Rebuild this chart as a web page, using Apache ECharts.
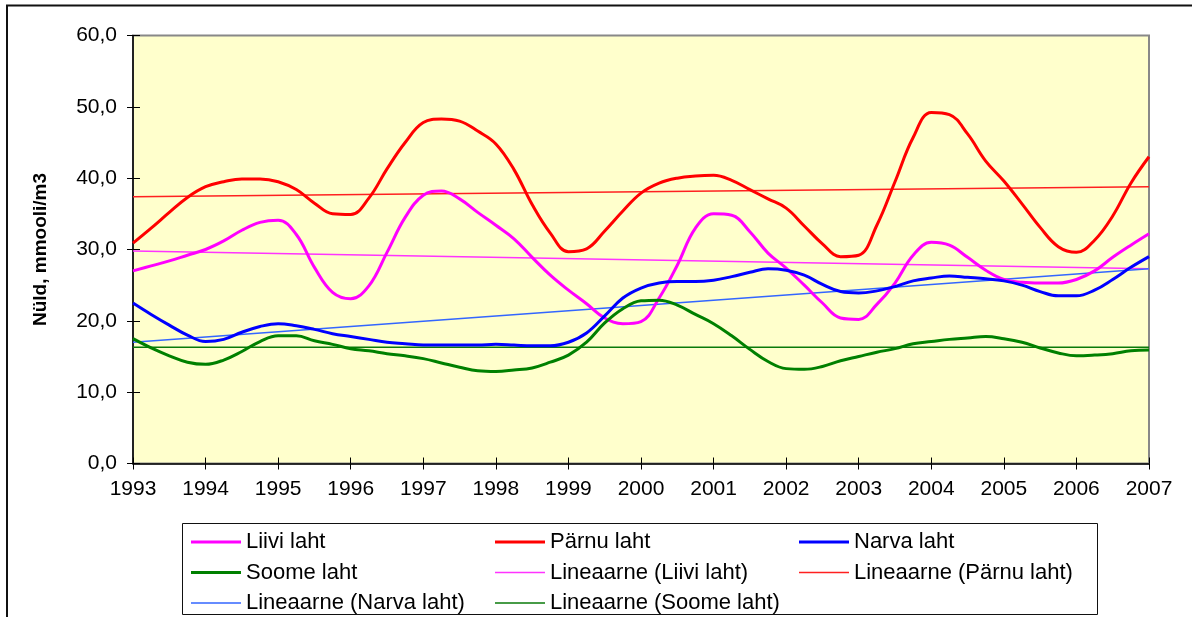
<!DOCTYPE html>
<html>
<head>
<meta charset="utf-8">
<script src="https://cdn.jsdelivr.net/npm/echarts@6/dist/echarts.min.js"></script>
<style>
  html, body { margin: 0; padding: 0; background: #fff; }
  #chart { width: 1192px; height: 617px; }
</style>
</head>
<body>
<div id="chart"></div>
<script>
// aastad, väärtused loetud iga veerandaasta järel
const yearLabels = ['1993', '1994', '1995', '1996', '1997', '1998', '1999', '2000',
  '2001', '2002', '2003', '2004', '2005', '2006', '2007'];

const liivi = [27.0, 27.7, 28.4, 29.2, 30.0, 31.2, 32.7, 33.8, 34.1, 32.1, 27.5, 24.0,
  23.1, 24.9, 29.6, 34.5, 37.6, 38.2, 37.1, 35.2, 33.4, 31.5, 28.9, 26.4,
  24.3, 22.4, 20.4, 19.6, 19.9, 23.2, 27.8, 33.0, 35.0, 34.8, 32.5, 29.5,
  27.4, 25.0, 22.5, 20.4, 20.2, 22.3, 25.3, 29.2, 31.0, 30.6, 28.9, 27.1,
  25.8, 25.4, 25.3, 25.3, 25.8, 27.0, 28.9, 30.6, 32.2];

const parnu = [30.9, 33.0, 35.2, 37.3, 38.8, 39.5, 39.9, 39.9, 39.5, 38.4, 36.5, 35.0,
  34.9, 37.2, 41.3, 45.0, 47.8, 48.3, 48.0, 46.6, 44.8, 41.2, 36.3, 32.3,
  29.7, 30.1, 32.6, 35.4, 37.9, 39.3, 40.0, 40.3, 40.4, 39.7, 38.4, 37.1,
  35.8, 33.3, 30.8, 29.0, 29.2, 33.4, 39.5, 45.7, 49.2, 48.9, 46.2, 42.4,
  39.6, 36.4, 33.1, 30.4, 29.6, 31.3, 34.7, 39.3, 43.0];

const narva = [22.5, 20.9, 19.4, 18.0, 17.1, 17.4, 18.4, 19.2, 19.6, 19.3, 18.8, 18.2,
  17.8, 17.4, 17.0, 16.8, 16.6, 16.6, 16.6, 16.6, 16.7, 16.6, 16.5, 16.5,
  17.0, 18.3, 20.7, 23.2, 24.6, 25.3, 25.5, 25.5, 25.7, 26.2, 26.8, 27.3,
  27.1, 26.4, 25.1, 24.1, 23.9, 24.2, 24.8, 25.6, 26.0, 26.3, 26.1, 25.9,
  25.6, 25.0, 24.1, 23.5, 23.5, 24.3, 25.8, 27.5, 29.0];

const soome = [17.5, 16.2, 15.1, 14.2, 13.9, 14.5, 15.7, 17.1, 17.9, 17.9, 17.2, 16.7,
  16.1, 15.8, 15.4, 15.1, 14.7, 14.1, 13.5, 13.0, 12.9, 13.1, 13.4, 14.2,
  15.2, 17.0, 19.7, 21.7, 22.8, 22.9, 22.2, 20.9, 19.6, 17.9, 16.0, 14.3,
  13.3, 13.2, 13.6, 14.4, 15.0, 15.6, 16.1, 16.8, 17.1, 17.4, 17.6, 17.8,
  17.5, 17.0, 16.2, 15.5, 15.1, 15.2, 15.4, 15.8, 15.9];

// lineaarsete trendide otspunktid (1993, 2007)
const trendLiivi = [29.8, 27.3];
const trendParnu = [37.4, 38.8];
const trendNarva = [17.0, 27.3];
const trendSoome = [16.3, 16.3];

const FONT = '"Liberation Sans", Arial, sans-serif';
const firstYear = 1993;
const lastYear = 2007;

const THICK_ICON = 'path://M0,0H50V3H0Z';
const THIN_ICON = 'path://M0,0H50V1.5H0Z';

function withTime(values) {
  return values.map((v, i) => [firstYear + i * 0.25, v]);
}
function trend(ends) {
  return [[firstYear, ends[0]], [lastYear, ends[1]]];
}

function dataLine(name, color, values) {
  return {
    name: name,
    type: 'line',
    smooth: 0.4,
    symbol: 'none',
    data: withTime(values),
    lineStyle: { color: color, width: 3 },
    itemStyle: { color: color },
    z: 3
  };
}
function trendLine(name, color, ends) {
  return {
    name: name,
    type: 'line',
    symbol: 'none',
    data: trend(ends),
    lineStyle: { color: color, width: 1.5 },
    itemStyle: { color: color },
    z: 2
  };
}

function legendColumn(left, items) {
  return {
    orient: 'vertical',
    left: left,
    top: 531,
    height: 90,
    padding: 0,
    itemWidth: 50,
    itemHeight: 14,
    itemGap: 8.5,
    symbolKeepAspect: true,
    itemStyle: { borderWidth: 0 },
    data: items.map(n => ({
      name: n,
      icon: n.indexOf('Lineaarne') === 0 ? THIN_ICON : THICK_ICON
    })),
    textStyle: { fontFamily: FONT, fontSize: 22, color: '#000', lineHeight: 20 }
  };
}

const chart = echarts.init(document.getElementById('chart'));

const option = {
  backgroundColor: '#fff',
  animation: false,
  grid: {
    left: 133,
    top: 35.5,
    width: 1016,
    height: 428,
    show: true,
    backgroundColor: '#FFFFCC',
    borderColor: '#888888',
    borderWidth: 2
  },
  graphic: [
    {
      type: 'rect',
      shape: { x: 7, y: 5.5, width: 1300, height: 700 },
      style: { fill: 'none', stroke: '#111', lineWidth: 2 },
      silent: true
    },
    {
      type: 'rect',
      shape: { x: 182.5, y: 523.5, width: 915, height: 91 },
      style: { fill: 'none', stroke: '#111', lineWidth: 1 },
      silent: true
    }
  ],
  legend: [
    legendColumn(191, ['Liivi laht', 'Soome laht', 'Lineaarne (Narva laht)']),
    legendColumn(495, ['Pärnu laht', 'Lineaarne (Liivi laht)', 'Lineaarne (Soome laht)']),
    legendColumn(799, ['Narva laht', 'Lineaarne (Pärnu laht)'])
  ],
  xAxis: [
    {
      type: 'value',
      min: firstYear,
      max: lastYear,
      interval: 1,
      axisLine: { onZero: false, lineStyle: { color: '#000', width: 1.5 } },
      axisTick: { show: true, length: 6, lineStyle: { color: '#000' } },
      axisLabel: {
        margin: 15,
        fontFamily: FONT,
        fontSize: 21,
        color: '#000',
        formatter: v => yearLabels[v - firstYear]
      },
      splitLine: { show: false }
    },
    {
      // ristuvad jaotised: sisemine pool
      type: 'value',
      position: 'bottom',
      min: firstYear,
      max: lastYear,
      interval: 1,
      axisLine: { show: false },
      axisTick: { show: true, inside: true, length: 6, lineStyle: { color: '#000' } },
      axisLabel: { show: false },
      splitLine: { show: false }
    }
  ],
  yAxis: [
    {
      type: 'value',
      min: 0,
      max: 60,
      interval: 10,
      name: 'Nüld, mmooli/m3',
      nameLocation: 'middle',
      nameRotate: 90,
      nameGap: 83,
      nameTextStyle: { fontFamily: FONT, fontSize: 19, fontWeight: 'bold', color: '#000' },
      axisLine: { show: true, lineStyle: { color: '#000', width: 1.5 } },
      axisTick: { show: true, length: 6, lineStyle: { color: '#000' } },
      axisLabel: {
        margin: 16,
        fontFamily: FONT,
        fontSize: 21,
        color: '#000',
        formatter: v => v.toFixed(1).replace('.', ',')
      },
      splitLine: { show: false }
    },
    {
      type: 'value',
      position: 'left',
      min: 0,
      max: 60,
      interval: 10,
      axisLine: { show: false },
      axisTick: { show: true, inside: true, length: 7, lineStyle: { color: '#000' } },
      axisLabel: { show: false },
      splitLine: { show: false }
    }
  ],
  series: [
    dataLine('Liivi laht', '#FF00FF', liivi),
    dataLine('Pärnu laht', '#FF0000', parnu),
    dataLine('Narva laht', '#0000FF', narva),
    dataLine('Soome laht', '#008000', soome),
    trendLine('Lineaarne (Liivi laht)', '#FF33FF', trendLiivi),
    trendLine('Lineaarne (Pärnu laht)', '#FF2020', trendParnu),
    trendLine('Lineaarne (Narva laht)', '#3366FF', trendNarva),
    trendLine('Lineaarne (Soome laht)', '#0A7A0A', trendSoome)
  ]
};

chart.setOption(option);
</script>
</body>
</html>
